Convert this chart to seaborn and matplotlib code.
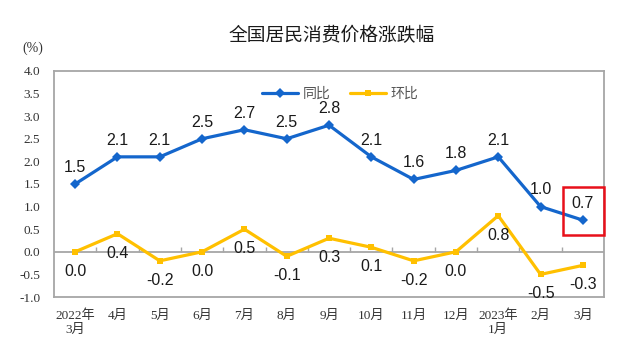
import numpy as np
import pandas as pd
import matplotlib
matplotlib.use("Agg")
import matplotlib.pyplot as plt
import seaborn as sns
from matplotlib.patches import Rectangle

months = ["2022年\n3月", "4月", "5月", "6月", "7月", "8月", "9月",
          "10月", "11月", "12月", "2023年\n1月", "2月", "3月"]
yoy = [1.5, 2.1, 2.1, 2.5, 2.7, 2.5, 2.8, 2.1, 1.6, 1.8, 2.1, 1.0, 0.7]
mom = [0.0, 0.4, -0.2, 0.0, 0.5, -0.1, 0.3, 0.1, -0.2, 0.0, 0.8, -0.5, -0.3]
yticks = np.arange(-1.0, 4.01, 0.5)

blue = "#1466CC"
yellow = "#FFC000"
grey = "#A6A6A6"

sns.set_theme(style="white")
plt.rcParams["font.family"] = ["Liberation Sans", "Noto Sans CJK SC", "DejaVu Sans"]

df = pd.DataFrame({
    "month": months * 2,
    "value": yoy + mom,
    "series": ["同比"] * len(months) + ["环比"] * len(months),
})

fig = plt.figure(figsize=(6.26, 3.56), dpi=100)
ax = fig.add_axes([0.0863, 0.1657, 0.8786, 0.635])

sns.lineplot(data=df, x="month", y="value", hue="series", style="series",
             palette={"同比": blue, "环比": yellow},
             markers={"同比": "D", "环比": "s"}, dashes=False,
             markersize=5, markeredgewidth=0, linewidth=2.3, ax=ax)

ax.set_xlim(-0.5, len(months) - 0.5)
ax.set_ylim(-1.0, 4.0)
ax.set_yticks(yticks)
ax.set_yticklabels([f"{v:.1f}" for v in yticks],
                   family=["Liberation Serif", "DejaVu Serif"], fontsize=9.5, color="#333333")
ax.set_xticks(range(len(months)))
ax.set_xticklabels(months, family=["Liberation Serif", "Noto Sans CJK SC"],
                   fontsize=9.5, color="#333333", linespacing=1.15)
ax.tick_params(axis="both", length=0)
ax.tick_params(axis="x", pad=9)
ax.tick_params(axis="y", pad=10)
ax.set_xlabel("")
ax.set_ylabel("")

for s in ax.spines.values():
    s.set_color(grey)
    s.set_linewidth(1.3)

# zero line with small separators
ax.axhline(0, color=grey, linewidth=1.3, zorder=1)
ax.vlines(np.arange(len(months) - 1) + 0.5, 0, 0.1, color=grey, linewidth=1.0, zorder=1)

for i, v in enumerate(yoy):
    ax.annotate(f"{v:.1f}", (i, v), xytext=(0, 12), textcoords="offset points",
                ha="center", va="center", fontsize=11.5, color="#1a1a1a")
for i, v in enumerate(mom):
    ax.annotate(f"{v:.1f}", (i, v), xytext=(0, -14), textcoords="offset points",
                ha="center", va="center", fontsize=11.5, color="#1a1a1a")

# red highlight box around last value
ax.add_patch(Rectangle((11.53, 0.37), 0.97, 1.06, fill=False, edgecolor="#E8101A",
                       linewidth=1.8, clip_on=False, zorder=5))

leg = ax.legend(loc="upper center", bbox_to_anchor=(0.52, 0.985), ncol=2, frameon=False,
                fontsize=10, handlelength=2.6, columnspacing=1.4, handletextpad=0.3)
for t in leg.get_texts():
    t.set_color("#555555")

fig.text(0.53, 0.90, "全国居民消费价格涨跌幅", ha="center", va="center",
         fontsize=13.5, family=["Noto Sans CJK SC"], color="#1a1a1a")
fig.text(0.052, 0.865, "(%)", ha="center", va="center", fontsize=10,
         family=["Liberation Serif"], color="#333333")

fig.savefig("out.png", dpi=100)
